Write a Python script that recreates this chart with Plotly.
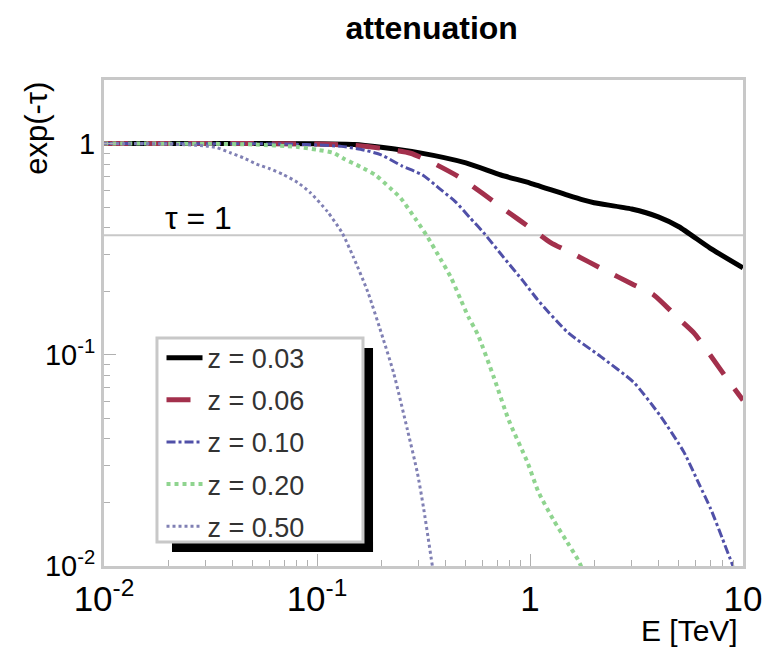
import numpy as np
import plotly.graph_objects as go

# ---- data ----
labels = ["z = 0.03", "z = 0.06", "z = 0.10", "z = 0.20", "z = 0.50"]

E_003 = [0.01, 0.03, 0.1, 0.15, 0.2, 0.3, 0.5, 0.73, 1.0, 1.5, 1.79, 2.0, 3.0, 4.0, 5.0, 7.0, 10.0]
y_003 = [1.0, 1.0, 0.998, 0.99, 0.96, 0.906, 0.81, 0.71, 0.65, 0.57, 0.54, 0.525, 0.49, 0.45, 0.404, 0.32, 0.258]

E_006 = [0.01, 0.05, 0.1, 0.15, 0.2, 0.275, 0.35, 0.47, 0.6, 0.785, 1.0, 1.25, 1.6, 2.22, 3.0, 3.81, 5.0, 5.88, 7.0, 8.5, 10.0]
y_006 = [1.0, 1.0, 0.995, 0.98, 0.95, 0.9, 0.81, 0.69, 0.58, 0.476, 0.40, 0.34, 0.30, 0.253, 0.217, 0.192, 0.148, 0.127, 0.10, 0.076, 0.061]

E_010 = [0.01, 0.05, 0.08, 0.1, 0.13, 0.16, 0.2, 0.25, 0.313, 0.38, 0.447, 0.52, 0.605, 0.75, 0.933, 1.087, 1.5, 2.15, 3.07, 4.11, 5.27, 6.2, 7.06, 8.0, 8.97]
y_010 = [1.0, 0.998, 0.992, 0.985, 0.97, 0.94, 0.885, 0.785, 0.71, 0.607, 0.53, 0.448, 0.379, 0.29, 0.222, 0.182, 0.128, 0.098, 0.074, 0.051, 0.0347, 0.0246, 0.0186, 0.0135, 0.0100]

E_020 = [0.01, 0.03, 0.05, 0.08, 0.1, 0.119, 0.133, 0.16, 0.188, 0.22, 0.246, 0.29, 0.33, 0.38, 0.424, 0.47, 0.514, 0.568, 0.675, 0.795, 0.975, 1.096, 1.29, 1.5, 1.68, 1.76]
y_020 = [1.0, 0.998, 0.99, 0.965, 0.935, 0.905, 0.85, 0.776, 0.71, 0.617, 0.555, 0.44, 0.362, 0.284, 0.234, 0.185, 0.151, 0.125, 0.0787, 0.049, 0.0308, 0.0224, 0.0165, 0.0129, 0.0107, 0.0097]

E_050 = [0.01, 0.02, 0.03, 0.034, 0.039, 0.045, 0.052, 0.06, 0.0695, 0.081, 0.093, 0.112, 0.131, 0.148, 0.173, 0.205, 0.229, 0.266, 0.296, 0.316, 0.348]
y_050 = [1.0, 0.995, 0.975, 0.955, 0.906, 0.858, 0.80, 0.76, 0.713, 0.655, 0.586, 0.476, 0.379, 0.291, 0.199, 0.118, 0.082, 0.044, 0.0276, 0.019, 0.0100]

tau_one = float(np.exp(-1.0))

x_tickvals = [0.01, 0.1, 1, 10]
x_ticktext = ["10<sup>-2</sup>", "10<sup>-1</sup>", "1", "10"]
y_tickvals = [0.01, 0.1, 1]
y_ticktext = ["10<sup>-2</sup>", "10<sup>-1</sup>", "1"]

series = [
    (E_003, y_003, "#000000", "solid", 5),
    (E_006, y_006, "#a3304c", "24px,18px", 5),
    (E_010, y_010, "#5050a8", "dashdot", 3),
    (E_020, y_020, "#8fd48f", "dot", 4),
    (E_050, y_050, "#8080b4", "dot", 3),
]

FONT = "Liberation Sans, Arial, sans-serif"

fig = go.Figure()
for (E, y, col, dash, w), lab in zip(series, labels):
    fig.add_trace(go.Scatter(x=E, y=y, mode="lines", name=lab, legendgroup=lab,
                             line=dict(color=col, dash=dash, width=w, shape="spline", smoothing=0.6)))

fig.add_hline(y=tau_one, line=dict(color="#c8c8c8", width=2), layer="below")

minor_vals = [m * 10.0 ** k for k in (-2, -1, 0) for m in range(2, 10)]

fig.update_xaxes(type="log", range=[-2, 1], tickvals=x_tickvals, ticktext=x_ticktext,
                 ticks="inside", ticklen=12, tickwidth=1, tickcolor="#b0b0b0",
                 showline=True, linecolor="#c8c8c8", linewidth=3, mirror=True,
                 showgrid=False, zeroline=False, automargin=False,
                 tickfont=dict(family=FONT, size=35, color="#000"),
                 minor=dict(tickvals=minor_vals, ticks="inside", ticklen=6, tickcolor="#b0b0b0", showgrid=False))
fig.update_yaxes(type="log", range=[-2, np.log10(2.0)], tickvals=y_tickvals, ticktext=y_ticktext,
                 ticks="inside", ticklen=12, tickwidth=1, tickcolor="#b0b0b0",
                 showline=True, linecolor="#c8c8c8", linewidth=3, mirror=True,
                 showgrid=False, zeroline=False, automargin=False,
                 tickfont=dict(family=FONT, size=29, color="#000"),
                 minor=dict(tickvals=minor_vals[:16], ticks="inside", ticklen=6, tickcolor="#b0b0b0", showgrid=False))

# legend frame and shadow (ROOT style)
fig.add_shape(type="rect", xref="paper", yref="paper", x0=0.1064, x1=0.421, y0=0.0288, y1=0.0494,
              fillcolor="#000", line=dict(width=0))
fig.add_shape(type="rect", xref="paper", yref="paper", x0=0.4053, x1=0.421, y0=0.0288, y1=0.4486,
              fillcolor="#000", line=dict(width=0))
fig.add_shape(type="rect", xref="paper", yref="paper", x0=0.0829, x1=0.4053, y0=0.0494, y1=0.469,
              fillcolor="#fff", line=dict(color="#c8c8c8", width=3))

fig.add_annotation(text="\u03c4 = 1", xref="paper", yref="paper", x=0.092, y=0.716,
                   xanchor="left", yanchor="middle", showarrow=False,
                   font=dict(family=FONT, size=32, color="#000"))
fig.add_annotation(text="exp(-\u03c4)", xref="paper", yref="paper", x=-0.106, y=1.0,
                   xanchor="center", yanchor="top", textangle=-90, showarrow=False,
                   font=dict(family=FONT, size=31, color="#000"))
fig.add_annotation(text="E [TeV]", xref="paper", yref="paper", x=0.994, y=-0.132,
                   xanchor="right", yanchor="middle", showarrow=False, borderpad=0,
                   font=dict(family=FONT, size=30, color="#000"))

fig.update_layout(
    width=764, height=654,
    margin=dict(l=104, r=21, t=80, b=88),
    paper_bgcolor="#ffffff", plot_bgcolor="#ffffff",
    title=dict(text="<b>attenuation</b>", x=0.565, xanchor="center", y=0.957, yanchor="middle",
               font=dict(family=FONT, size=32, color="#000")),
    legend=dict(x=0.09, y=0.478, xanchor="left", yanchor="top", bgcolor="rgba(0,0,0,0)",
                borderwidth=0, font=dict(family=FONT, size=27, color="#333"),
                itemwidth=36, traceorder="grouped", tracegroupgap=4),
    showlegend=True,
)

fig.write_html("out.html", config={"displayModeBar": False},
               post_script="document.body.style.margin='0';document.body.style.overflow='hidden';")
